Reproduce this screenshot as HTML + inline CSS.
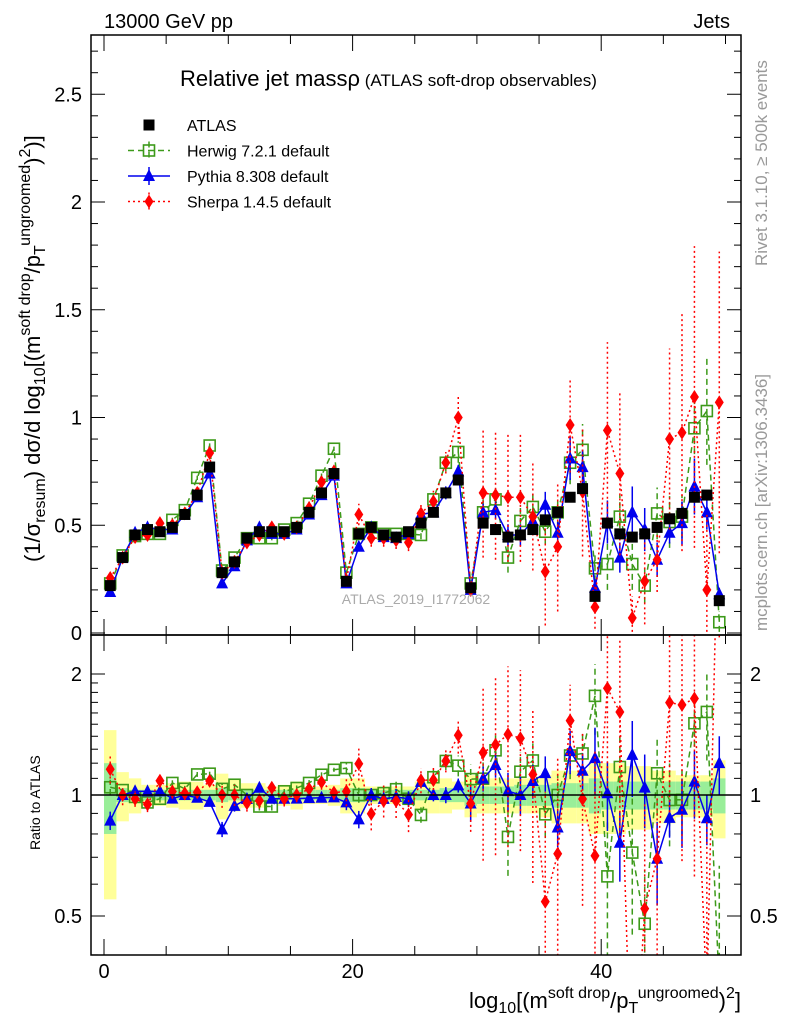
<!DOCTYPE html>
<html><head><meta charset="utf-8"><style>
html,body{margin:0;padding:0;background:#fff;width:786px;height:1024px;overflow:hidden}
svg{display:block;font-family:"Liberation Sans",sans-serif}
</style></head><body>
<svg id="c" width="786" height="1024" viewBox="0 0 786 1024" xmlns="http://www.w3.org/2000/svg">
<defs>
<clipPath id="cm"><rect x="91" y="35" width="650" height="600"/></clipPath>
<clipPath id="cr"><rect x="91" y="635" width="650" height="320"/></clipPath>
</defs>
<g id="bands" clip-path="url(#cr)"></g>
<g id="rat" clip-path="url(#cr)"></g>
<g id="main" clip-path="url(#cm)"></g>
<g id="axes"></g>
<text x="104" y="28" font-size="20">13000 GeV pp</text>
<text x="730" y="28" font-size="20" text-anchor="end">Jets</text>
<text x="180" y="86" font-size="22">Relative jet mass<tspan>ρ</tspan><tspan font-size="17"> (ATLAS soft-drop observables)</tspan></text>
<text x="416" y="604" font-size="14" fill="#aaa" text-anchor="middle">ATLAS_2019_I1772062</text>
<text transform="translate(767,266) rotate(-90)" font-size="17" fill="#999">Rivet 3.1.10, ≥ 500k events</text>
<text transform="translate(767,631) rotate(-90)" font-size="17" fill="#999">mcplots.cern.ch [arXiv:1306.3436]</text>
<text transform="translate(40,562) rotate(-90)" font-size="22">(1/σ<tspan font-size="16" dy="5">resum</tspan><tspan dy="-5">) dσ/d log</tspan><tspan font-size="16" dy="5">10</tspan><tspan dy="-5">[(m</tspan><tspan font-size="16" dy="-10">soft drop</tspan><tspan dy="10">/p</tspan><tspan font-size="16" dy="5">T</tspan><tspan font-size="16" dy="-15">ungroomed</tspan><tspan dy="10">)</tspan><tspan font-size="16" dy="-10">2</tspan><tspan dy="10">)]</tspan></text>
<text transform="translate(40,850) rotate(-90)" font-size="14">Ratio to ATLAS</text>
<text x="741" y="1008" font-size="22" text-anchor="end">log<tspan font-size="16" dy="5">10</tspan><tspan dy="-5">[(m</tspan><tspan font-size="16" dy="-10">soft drop</tspan><tspan dy="10">/p</tspan><tspan font-size="16" dy="5">T</tspan><tspan font-size="16" dy="-15">ungroomed</tspan><tspan dy="10">)</tspan><tspan font-size="16" dy="-10">2</tspan><tspan dy="10">]</tspan></text>
<g id="legend"></g>
<script>
const categories=[...Array(50).keys()].map(i=>i+0.5);
const atlas=[0.22,0.35,0.455,0.48,0.47,0.49,0.55,0.64,0.77,0.28, 0.33,0.44,0.47,0.47,0.47,0.49,0.56,0.65,0.74,0.24, 0.46,0.49,0.455,0.445,0.47,0.51,0.56,0.65,0.71,0.21, 0.51,0.48,0.445,0.455,0.48,0.525,0.56,0.63,0.67,0.17, 0.51,0.46,0.445,0.46,0.49,0.53,0.555,0.63,0.64,0.15];
const atlasStat=[0.2,0.04,0.03,0.03,0.03,0.03,0.03,0.03,0.03,0.04, 0.03,0.03,0.03,0.03,0.03,0.03,0.03,0.03,0.03,0.04, 0.04,0.03,0.03,0.03,0.03,0.03,0.03,0.04,0.04,0.06, 0.05,0.05,0.05,0.06,0.06,0.06,0.07,0.07,0.07,0.1, 0.08,0.08,0.08,0.08,0.08,0.08,0.08,0.08,0.08,0.1];
const atlasTot=[0.45,0.14,0.1,0.06,0.06,0.07,0.08,0.08,0.06,0.13, 0.09,0.07,0.07,0.05,0.06,0.08,0.05,0.05,0.06,0.1, 0.1,0.05,0.05,0.05,0.05,0.08,0.1,0.1,0.08,0.12, 0.1,0.1,0.1,0.1,0.1,0.12,0.15,0.15,0.15,0.2, 0.2,0.2,0.18,0.18,0.15,0.15,0.12,0.12,0.12,0.22];
const herwig=[0.23,0.36,0.45,0.46,0.46,0.525,0.57,0.72,0.87,0.29, 0.35,0.44,0.44,0.44,0.48,0.51,0.6,0.73,0.855,0.28, 0.46,0.49,0.46,0.46,0.46,0.455,0.62,0.79,0.84,0.23, 0.56,0.62,0.35,0.52,0.585,0.47,0.56,0.79,0.85,0.3, 0.32,0.54,0.32,0.22,0.555,0.515,0.54,0.95,1.03,0.05];
const herwigErr=[0.01,0.01,0.01,0.01,0.01,0.01,0.01,0.01,0.01,0.01, 0.01,0.01,0.01,0.01,0.01,0.01,0.01,0.01,0.01,0.01, 0.02,0.02,0.02,0.02,0.02,0.02,0.03,0.04,0.05,0.02, 0.06,0.07,0.07,0.06,0.06,0.06,0.07,0.1,0.12,0.06, 0.12,0.1,0.12,0.08,0.12,0.12,0.1,0.12,0.25,0.05];
const pythia=[0.19,0.35,0.465,0.49,0.48,0.48,0.55,0.63,0.74,0.23, 0.31,0.43,0.49,0.46,0.46,0.48,0.55,0.64,0.73,0.23, 0.4,0.49,0.445,0.44,0.46,0.55,0.56,0.65,0.75,0.2, 0.56,0.57,0.455,0.455,0.52,0.595,0.465,0.81,0.77,0.21, 0.515,0.35,0.56,0.48,0.34,0.465,0.51,0.68,0.56,0.18];
const pythiaErr=[0.01,0.01,0.01,0.01,0.01,0.01,0.01,0.01,0.01,0.01, 0.01,0.01,0.01,0.01,0.01,0.01,0.01,0.01,0.01,0.01, 0.02,0.02,0.02,0.02,0.02,0.02,0.02,0.03,0.03,0.02, 0.04,0.04,0.05,0.05,0.05,0.06,0.05,0.1,0.08,0.04, 0.1,0.07,0.12,0.1,0.08,0.05,0.1,0.13,0.08,0.03];
const sherpa=[0.255,0.35,0.445,0.455,0.51,0.5,0.555,0.65,0.835,0.28, 0.33,0.42,0.455,0.49,0.46,0.49,0.58,0.7,0.75,0.245, 0.55,0.44,0.44,0.43,0.42,0.555,0.61,0.79,1.0,0.2, 0.65,0.64,0.63,0.63,0.54,0.285,0.4,0.965,0.655,0.12, 0.94,0.74,0.07,0.24,0.34,0.9,0.93,1.095,0.2,1.07];
const sherpaErr=[0.02,0.02,0.02,0.02,0.02,0.02,0.02,0.02,0.02,0.02, 0.02,0.02,0.02,0.02,0.02,0.02,0.02,0.03,0.03,0.02, 0.05,0.04,0.04,0.04,0.04,0.04,0.05,0.05,0.1,0.03, 0.3,0.3,0.3,0.3,0.25,0.25,0.3,0.22,0.3,0.1, 0.41,0.38,0.1,0.2,0.15,0.42,0.55,0.7,0.35,0.7];
const mainTicks=[0,0.5,1,1.5,2,2.5];
const mainTickLabels=["0","0.5","1","1.5","2","2.5"];
const ratioTicks=[0.5,1,2];
const ratioTickLabels=["0.5","1","2"];
const xTicks=[0,20,40];
const xTickLabels=["0","20","40"];

const NS="http://www.w3.org/2000/svg";
const X=v=>104+12.43*v;
const Y=v=>633-215.5*v;
const R=v=>795-121*Math.log2(v);
function mk(parent,tag,attrs){const e=document.createElementNS(NS,tag);for(const k in attrs)e.setAttribute(k,attrs[k]);document.getElementById(parent).appendChild(e);return e;}
function marker(parent,type,x,y,color){
  let e;
  if(type==="sq"){e=mk(parent,"rect",{x:x-5.5,y:y-5.5,width:11,height:11,fill:"#000"});}
  else if(type==="osq"){e=mk(parent,"rect",{x:x-5.5,y:y-5.5,width:11,height:11,fill:"none",stroke:color,"stroke-width":1.6});}
  else if(type==="tri"){e=mk(parent,"polygon",{points:`${x},${y-7} ${x-6},${y+5} ${x+6},${y+5}`,fill:color});}
  else {e=mk(parent,"polygon",{points:`${x},${y-7} ${x-4.5},${y} ${x},${y+7} ${x+4.5},${y}`,fill:color});}
  return e;
}
categories.forEach((c,i)=>{
  const x0=X(c-0.5),w=12.43;
  const y1=mk("bands","rect",{x:x0,y:R(1+atlasTot[i]),width:w,height:R(Math.max(1-atlasTot[i],0.05))-R(1+atlasTot[i]),fill:"#ffff99"});
  
  
  const g=mk("bands","rect",{x:x0,y:R(1+atlasStat[i]),width:w,height:R(1-atlasStat[i])-R(1+atlasStat[i]),fill:"#99ee99"});
  
  
});
const series=[
 {name:"herwig",vals:herwig,err:herwigErr,color:"#3d9a1a",dash:"6,4",type:"osq"},
 {name:"pythia",vals:pythia,err:pythiaErr,color:"#0000ee",dash:"",type:"tri"},
 {name:"sherpa",vals:sherpa,err:sherpaErr,color:"#ff0000",dash:"2,3",type:"dia"}
];
series.forEach(s=>{
  ["main","rat"].forEach(p=>{
    const yf=p==="main"?(v=>Y(v)):((v,i)=>R(Math.max(v/atlas[i],0.01)));
    const pts=s.vals.map((v,i)=>`${X(categories[i])},${yf(v,i)}`).join(" ");
    const l=mk(p,"polyline",{points:pts,fill:"none",stroke:s.color,"stroke-width":1.5,"stroke-dasharray":s.dash});
    
    
    s.vals.forEach((v,i)=>{
      const x=X(categories[i]);
      const lo=yf(Math.max(v-s.err[i],0.005),i),hi=yf(v+s.err[i],i);
      const eb=mk(p,"line",{x1:x,x2:x,y1:lo,y2:hi,stroke:s.color,"stroke-width":1.5,"stroke-dasharray":s.dash});
      
      
      const m=marker(p,s.type,x,yf(v,i),s.color);
      
      
    });
  });
});
atlas.forEach((v,i)=>{
  const m=marker("main","sq",X(categories[i]),Y(v));
  
  
});
const ax=mk("axes","line",{x1:91,x2:741,y1:795,y2:795,stroke:"#000","stroke-width":1.5});


const fr1=mk("axes","rect",{x:91,y:35,width:650,height:600,fill:"none",stroke:"#000","stroke-width":1.5});


const fr2=mk("axes","rect",{x:91,y:635,width:650,height:320,fill:"none",stroke:"#000","stroke-width":1.5});


for(let v=0;v<=2.75;v+=0.1){
  const major=Math.abs(v*2-Math.round(v*2))<1e-6,len=major?14:7,y=Y(v);
  mk("axes","line",{x1:91,x2:91+len,y1:y,y2:y,stroke:"#000"});
  mk("axes","line",{x1:741,x2:741-len,y1:y,y2:y,stroke:"#000"});
}
mainTicks.forEach((t,i)=>{const e=mk("axes","text",{x:82,y:Y(t)+7,"font-size":20,"text-anchor":"end"});e.textContent=mainTickLabels[i];

});
[0.4,0.5,0.6,0.7,0.8,0.9,1,1.1,1.2,1.3,1.4,1.5,1.6,1.7,1.8,1.9,2].forEach(v=>{
  const major=[0.5,1,2].includes(v),len=major?14:7,y=R(v);
  mk("axes","line",{x1:91,x2:91+len,y1:y,y2:y,stroke:"#000"});
  mk("axes","line",{x1:741,x2:741-len,y1:y,y2:y,stroke:"#000"});
});
ratioTicks.forEach((t,i)=>{
  const e=mk("axes","text",{x:82,y:R(t)+7,"font-size":20,"text-anchor":"end"});e.textContent=ratioTickLabels[i];
  
  
  const f=mk("axes","text",{x:750,y:R(t)+7,"font-size":20});f.textContent=ratioTickLabels[i];
  
  
});
for(let v=0;v<=50;v+=5){
  const len=v%20===0?16:9,x=X(v);
  [[35,1],[635,-1],[635,1],[955,-1]].forEach(([y0,d])=>mk("axes","line",{x1:x,x2:x,y1:y0,y2:y0+d*len,stroke:"#000"}));
}
xTicks.forEach((t,i)=>{const e=mk("axes","text",{x:X(t),y:978,"font-size":20,"text-anchor":"middle"});e.textContent=xTickLabels[i];

});
const leg=[["ATLAS","sq","#000",""],["Herwig 7.2.1 default","osq","#3d9a1a","6,4"],["Pythia 8.308 default","tri","#0000ee",""],["Sherpa 1.4.5 default","dia","#ff0000","2,3"]];
leg.forEach((l,i)=>{
  const y=125+i*25.5;
  if(i>0){mk("legend","line",{x1:128,x2:170,y1:y,y2:y,stroke:l[2],"stroke-width":1.5,"stroke-dasharray":l[3]});
   mk("legend","line",{x1:149,x2:149,y1:y-9,y2:y+9,stroke:l[2],"stroke-width":1.5,"stroke-dasharray":l[3]});}
  marker("legend",l[1],149,y,l[2]);
  const t=mk("legend","text",{x:187,y:y+6,"font-size":16});t.textContent=l[0];
  
  
});
</script>
</svg>
</body></html>
